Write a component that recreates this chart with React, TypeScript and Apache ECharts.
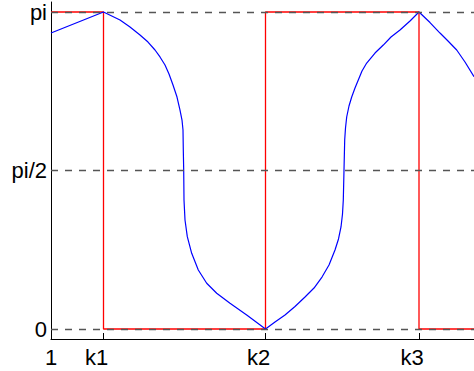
import React, { useEffect, useRef } from "react";
import * as echarts from "echarts";

const PI = Math.PI;

// x positions of the labelled ticks
const xTickValues = [1, 53.5, 215.5, 369];
const xTickLabels = ["1", "k1", "k2", "k3"];
const xMin = 1;
const xMax = 424;

// y ticks
const yTickValues = [0, PI / 2, PI];
const yTickLabels = ["0", "pi/2", "pi"];
const yMin = -0.0991;
const yMax = 3.2407;

// red step signal: [x, y]
const redX = [1, 53.5, 53.5, 215.5, 215.5, 369, 369, 424];
const redY = [PI, PI, 0, 0, PI, PI, 0, 0];

// blue curve
const blueX = [
  1, 53.5, 70, 80, 90, 98, 105, 110, 115, 119, 123, 127, 130, 132, 133, 133.3,
  133.7, 134, 135, 137.3, 141.7, 148.3, 156.7, 166.7, 180, 196.7,
  215.5, 225, 235, 245, 255, 264, 272, 279, 285, 288.5, 291, 292.5, 293.3, 294,
  294.7, 295.5, 296.7, 299, 301.7, 305, 308.3, 312, 316.7, 325, 333.3, 341, 350,
  360, 369, 380, 390, 398, 406.7, 415, 424,
];
const blueY = [
  2.933, 3.1416, 3.062, 2.993, 2.914, 2.844, 2.765, 2.696, 2.616, 2.527, 2.418,
  2.299, 2.17, 2.071, 1.972, 1.774, 1.576, 1.278, 1.08, 0.915, 0.75, 0.585,
  0.453, 0.354, 0.255, 0.139, 0, 0.069, 0.139,
  0.223, 0.317, 0.406, 0.515, 0.634, 0.783, 0.892, 1.011, 1.14, 1.278, 1.576,
  1.873, 1.992, 2.101, 2.21, 2.299, 2.388, 2.468, 2.557, 2.636, 2.735, 2.814,
  2.894, 2.963, 3.052, 3.1416, 3.037, 2.933, 2.854, 2.765, 2.646, 2.5,
];

const FONT = "'Liberation Sans', Arial, Helvetica, sans-serif";

export default function App() {
  const ref = useRef<HTMLDivElement>(null);

  useEffect(() => {
    document.body.style.margin = "0";
    if (!ref.current) return;
    const chart = echarts.init(ref.current, undefined, { renderer: "svg" });
    const redData = redX.map((x, i) => [x, redY[i]]);
    const blueData = blueX.map((x, i) => [x, blueY[i]]);

    chart.setOption({
      animation: false,
      backgroundColor: "#ffffff",
      grid: { left: 51, right: 0, top: 2, bottom: 32 },
      xAxis: {
        type: "value",
        min: xMin,
        max: xMax,
        axisLine: { show: true, onZero: false, lineStyle: { color: "#000", width: 1 } },
        axisTick: {
          show: true,
          inside: true,
          length: 6,
          customValues: xTickValues,
          lineStyle: { color: "#000", width: 1 },
        },
        axisLabel: {
          show: true,
          customValues: xTickValues,
          margin: 7,
          fontSize: 22,
          fontFamily: FONT,
          color: "#000",
          formatter: (v: number) => {
            const i = xTickValues.findIndex((t) => Math.abs(t - v) < 1e-6);
            if (i < 0) return "";
            return i === 0 ? `{n|${xTickLabels[i]}}` : `{k|${xTickLabels[i]}}`;
          },
          rich: {
            n: { fontSize: 22, fontFamily: FONT, color: "#000" },
            k: { fontSize: 22, fontFamily: FONT, color: "#000", padding: [0, 14, 0, 0] },
          },
        },
        splitLine: { show: false },
      },
      yAxis: {
        type: "value",
        min: yMin,
        max: yMax,
        axisLine: { show: true, onZero: false, lineStyle: { color: "#000", width: 1 } },
        axisTick: {
          show: true,
          inside: true,
          length: 6,
          customValues: yTickValues,
          lineStyle: { color: "#000", width: 1 },
        },
        axisLabel: {
          show: true,
          customValues: yTickValues,
          margin: 4,
          fontSize: 22,
          fontFamily: FONT,
          color: "#000",
          formatter: (v: number) => {
            const i = yTickValues.findIndex((t) => Math.abs(t - v) < 1e-6);
            return i >= 0 ? yTickLabels[i] : "";
          },
        },
        splitLine: { show: false },
      },
      series: [
        {
          type: "line",
          data: redData,
          showSymbol: false,
          symbol: "none",
          lineStyle: { color: "#ff0000", width: 1.3 },
          z: 2,
        },
        {
          type: "line",
          data: blueData,
          showSymbol: false,
          symbol: "none",
          lineStyle: { color: "#0000ff", width: 1.2 },
          z: 3,
        },
        {
          type: "line",
          data: [],
          symbol: "none",
          z: 4,
          markLine: {
            silent: true,
            symbol: ["none", "none"],
            label: { show: false },
            lineStyle: { color: "#555", type: [7, 7], width: 1.3 },
            data: yTickValues.map((v) => ({ yAxis: v })),
          },
        },
      ],
    });

    return () => chart.dispose();
  }, []);

  return <div ref={ref} style={{ width: 474, height: 371 }} />;
}
